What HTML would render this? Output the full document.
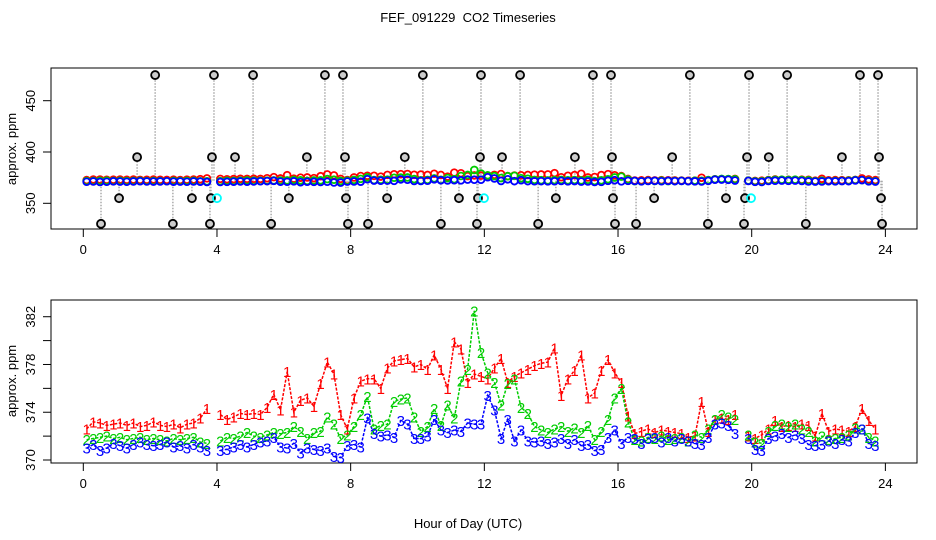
<!DOCTYPE html>
<html><head><meta charset="utf-8">
<style>
html,body{margin:0;padding:0;background:#fff;}
svg{display:block;font-family:"Liberation Sans",Arial,sans-serif;}
</style></head>
<body>
<svg id="chart" width="936" height="540" viewBox="0 0 936 540">
  <rect width="936" height="540" fill="#fff"/>
  <text x="468" y="22" text-anchor="middle" font-size="13" style="white-space:pre">FEF_091229  CO2 Timeseries</text>
  <text x="468" y="528" text-anchor="middle" font-size="13">Hour of Day (UTC)</text>
  <text transform="translate(16,149) rotate(-90)" text-anchor="middle" font-size="13">approx. ppm</text>
  <text transform="translate(16,381) rotate(-90)" text-anchor="middle" font-size="13">approx. ppm</text>
  <g id="top"></g>
  <g id="bot"></g>
</svg>
<script>
const xTicks = [0,4,8,12,16,20,24];
const topYTicks = [350,400,450];
const botYTicks = [370,372,374,376,378,380,382];
const botYLabels = [370,374,378,382];
const tStart = 0.1, tStep = 0.2;
const s1 = [372.6,373.2,373.1,372.9,373.0,373.1,372.9,373.1,372.8,372.9,373.2,372.9,372.8,373.0,372.7,373.0,373.1,373.5,374.3,null,
373.8,373.4,373.6,373.9,373.8,373.9,373.8,374.4,375.5,374.2,377.4,374.0,375.0,375.2,374.5,376.4,378.2,377.2,373.8,372.6,
375.2,376.6,376.8,376.8,376.0,377.7,378.3,378.4,378.5,377.8,378.0,377.6,378.8,377.6,376.0,379.9,379.3,376.5,377.2,377.0,
376.8,377.7,378.5,376.5,377.0,377.3,377.6,377.9,378.1,378.2,379.4,375.4,376.8,377.5,378.8,375.2,375.6,377.5,378.4,377.3,
376.5,373.7,372.2,372.4,372.6,372.3,372.5,372.4,372.3,372.2,371.9,372.0,374.9,372.4,373.4,373.5,373.4,373.8,null,372.0,
371.8,372.1,372.6,373.3,372.8,372.9,372.8,373.0,372.9,372.0,373.9,372.4,372.6,372.5,372.4,372.8,374.3,373.3,372.6];
const s2 = [371.7,371.8,371.9,372.0,371.8,371.9,371.7,371.8,371.9,371.7,371.8,371.7,371.6,371.8,371.7,371.8,371.9,371.5,371.4,null,
371.6,371.9,371.8,372.0,372.3,372.0,371.9,372.1,372.3,372.2,372.3,372.8,372.4,371.8,372.3,372.4,373.6,373.0,371.8,372.1,
372.8,373.8,375.3,372.6,372.9,373.0,374.9,375.1,375.2,373.6,372.4,372.8,374.3,372.9,374.6,373.5,376.6,377.6,382.5,379.0,
377.3,376.5,374.6,376.4,376.8,374.4,373.9,372.8,372.5,372.3,372.6,372.8,372.4,372.7,372.3,372.9,371.7,372.4,373.4,375.2,
376.0,373.2,371.7,371.6,371.9,371.8,372.0,371.7,371.8,371.9,371.6,372.1,371.9,372.6,373.4,373.8,373.6,373.4,null,372.1,
371.5,371.4,372.4,372.9,373.0,372.8,373.0,372.6,372.4,371.6,372.0,371.7,371.8,371.9,372.1,372.7,372.6,371.9,371.6];
const s3 = [371.0,371.3,370.8,371.0,371.4,371.2,371.0,371.3,371.5,371.3,371.2,371.3,371.5,371.1,371.2,371.0,371.3,371.1,370.8,null,
370.8,370.9,371.1,371.3,371.1,371.3,371.5,371.6,371.9,371.1,371.0,371.4,370.6,371.0,370.9,370.8,371.0,370.3,370.2,371.2,
371.3,371.1,373.5,372.2,372.0,372.1,371.9,373.3,373.0,371.8,371.8,372.0,373.4,372.5,372.3,372.5,372.4,373.1,373.0,373.0,
375.4,374.2,371.8,373.4,371.6,372.5,371.6,371.5,371.6,371.4,371.5,371.8,371.4,371.7,371.2,371.3,370.8,370.9,371.9,372.5,
371.4,371.9,371.8,371.4,371.8,371.9,371.5,371.9,371.6,371.8,371.6,371.4,371.3,371.9,373.0,373.1,372.9,372.2,null,371.8,
370.9,370.8,371.8,372.0,372.2,371.9,372.1,371.8,371.3,371.2,371.3,371.6,371.4,371.7,371.6,372.3,372.6,371.4,371.2];
const spike475 = [2.15,3.91,5.08,7.23,7.77,10.16,11.90,13.07,15.25,15.79,18.15,19.92,21.06,23.24,23.78];
const spike395 = [1.61,3.85,4.54,6.69,7.83,9.62,11.87,12.53,14.71,15.82,17.62,19.86,20.51,22.70,23.81];
const spike355 = [1.07,3.25,3.82,6.15,7.86,9.09,11.24,11.81,14.14,15.85,17.08,19.23,19.80,23.87];
const spike330 = [0.53,2.68,3.79,5.62,7.92,8.52,10.70,11.78,13.61,15.91,16.54,18.69,19.77,21.62,23.90];
const cyan355 = [4.0,11.99,19.98];
const spikeLevels = [475,395,355,330];
const baseline = 372;

const NS='http://www.w3.org/2000/svg';
function mk(tag, attrs, parent){const e=document.createElementNS(NS,tag);for(const k in attrs)e.setAttribute(k,attrs[k]);parent.appendChild(e);return e;}
const X = h => 83.3 + h*33.42;
const YT = v => 203.3 - (v-350)*1.026;
const YB = v => 460 - (v-370)*11.94;
const topG=document.getElementById('top'), botG=document.getElementById('bot');

function panel(g, y0, y1, yFn, ticks, labels, nm){
  const box=mk('rect',{x:51,y:y0,width:866,height:y1-y0,fill:'none',stroke:'#000','stroke-width':1},g);
  
  
  xTicks.forEach(t=>{
    const l=mk('line',{x1:X(t),x2:X(t),y1:y1,y2:y1+8,stroke:'#000'},g);
    
    
    const tx=mk('text',{x:X(t),y:y1+25,'text-anchor':'middle','font-size':13},g);
    tx.textContent=t;
    
    
  });
  ticks.forEach(v=>{
    const l=mk('line',{x1:43,x2:51,y1:yFn(v),y2:yFn(v),stroke:'#000'},g);
    
    
  });
  labels.forEach(v=>{
    const tx=mk('text',{transform:`translate(35,${yFn(v)}) rotate(-90)`,'text-anchor':'middle','font-size':13},g);
    tx.textContent=v;
    
    
  });
}
panel(topG,68,229,YT,topYTicks,topYTicks,'top');
panel(botG,300,463,YB,botYTicks,botYLabels,'bottom');

const spikeSets=[spike475,spike395,spike355,spike330];
spikeSets.forEach((arr,k)=>{
  const lvl=spikeLevels[k];
  arr.forEach(h=>{
    const l=mk('line',{x1:X(h),x2:X(h),y1:YT(baseline),y2:YT(lvl),stroke:'#aaa','stroke-width':1.5,'stroke-dasharray':'1.5,1.5'},topG);
    
    
  });
});
const colors=['#ff0000','#00cd00','#0000ff'];
const series=[s1,s2,s3];
series.forEach((s,k)=>{
  s.forEach((v,i)=>{
    if(v===null)return;
    const c=mk('circle',{cx:X(tStart+i*tStep),cy:YT(v),r:3.4,fill:'none',stroke:colors[k],'stroke-width':1.8},topG);
    
    
  });
});
spikeSets.forEach((arr,k)=>{
  const lvl=spikeLevels[k];
  arr.forEach(h=>{
    const c=mk('circle',{cx:X(h),cy:YT(lvl),r:4,fill:'#ccc',stroke:'#000','stroke-width':1.8},topG);
    
    
  });
});
cyan355.forEach(h=>{
  const c=mk('circle',{cx:X(h),cy:YT(355),r:4,fill:'none',stroke:'#00ffff','stroke-width':1.8},topG);
  
  
});

series.forEach((s,k)=>{
  let d='';let pen=false;
  s.forEach((v,i)=>{
    if(v===null){pen=false;return;}
    d+=(pen?'L':'M')+X(tStart+i*tStep).toFixed(1)+','+YB(v).toFixed(1);pen=true;
  });
  const p=mk('path',{d:d,fill:'none',stroke:colors[k],'stroke-width':1.5,'stroke-dasharray':'3,1.5'},botG);
  
  
});
series.forEach((s,k)=>{
  s.forEach((v,i)=>{
    if(v===null)return;
    const t=mk('text',{x:X(tStart+i*tStep),y:YB(v)+5.5,'text-anchor':'middle','font-size':15,fill:colors[k]},botG);
    t.textContent=String(k+1);
    
    
  });
});
</script>
</body></html>
